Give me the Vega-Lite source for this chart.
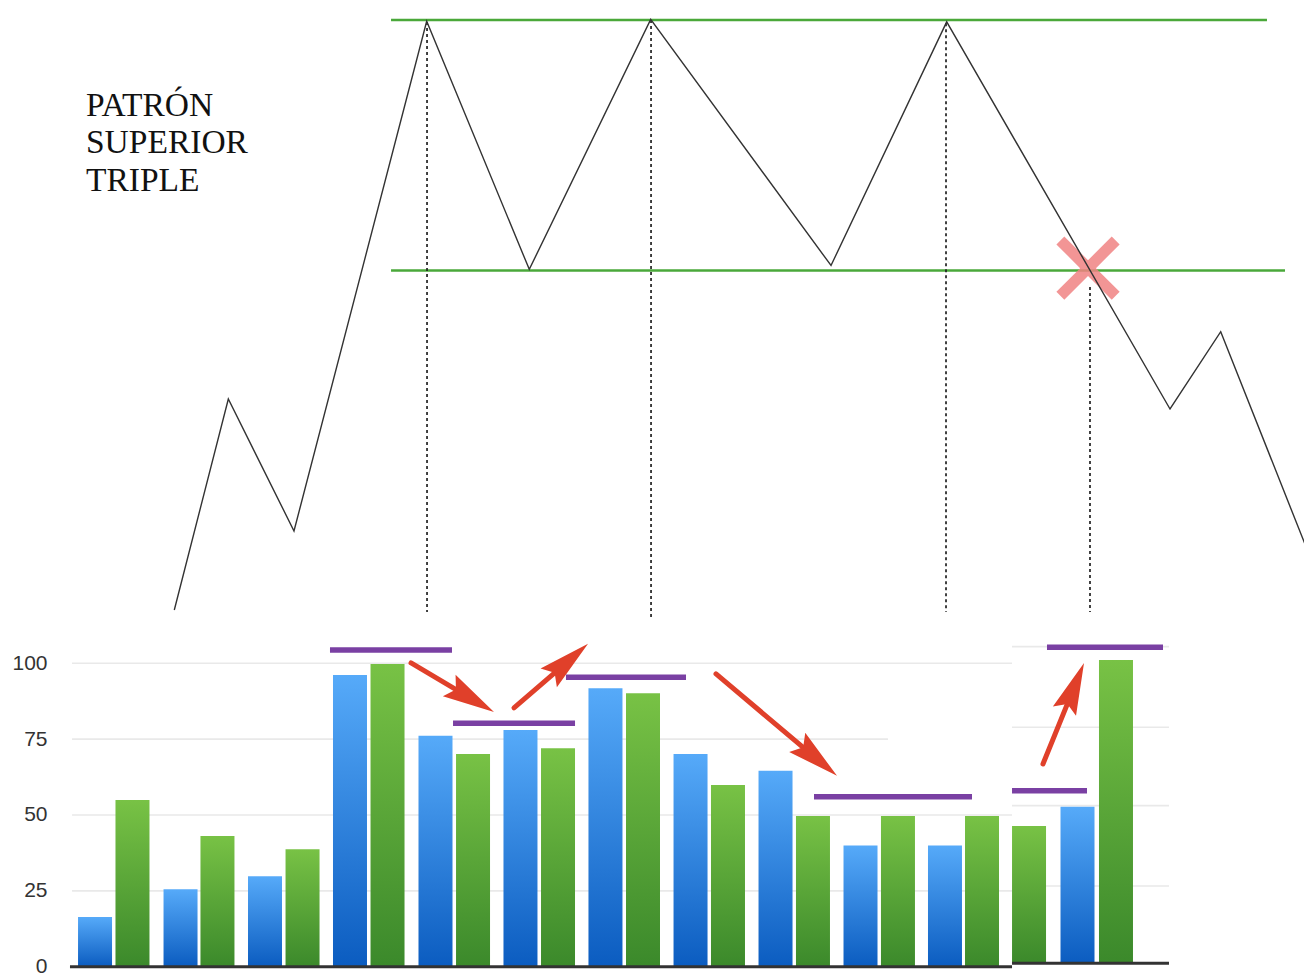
{
  "$schema": "https://vega.github.io/schema/vega-lite/v6.json",
  "width": 1304,
  "height": 974,
  "autosize": {"type": "none"},
  "padding": 0,
  "background": "white",
  "config": {"view": {"stroke": null}, "scale": {"continuousPadding": 0}},
  "datasets": {
    "linea": [
      {"g": 1.711, "p": 5.6},
      {"g": 2.343, "p": 39.36},
      {"g": 3.111, "p": 18.24},
      {"g": 4.663, "p": 99.8},
      {"g": 5.863, "p": 60.1},
      {"g": 7.283, "p": 100.1},
      {"g": 9.392, "p": 60.72},
      {"g": 10.745, "p": 99.7},
      {"g": 13.357, "p": 37.76},
      {"g": 13.95, "p": 50.13},
      {"g": 15.111, "p": 10.08}
    ],
    "niveles": [
      {"nivel": "resistencia", "g1": 4.246, "g2": 14.491, "p": 100},
      {"nivel": "soporte", "g1": 4.246, "g2": 14.702, "p": 59.92}
    ],
    "verticales": [
      {"g": 4.667, "p1": 99.7, "p2": 5.28},
      {"g": 7.287, "p1": 100, "p2": 4.0},
      {"g": 10.737, "p1": 99.5, "p2": 5.28},
      {"g": 12.421, "p1": 57.3, "p2": 5.28}
    ],
    "ruptura": [{"g": 12.398, "p": 60.3}],
    "titulo": [{"g": 0.678, "p": 84.69, "texto": "PATRÓN\nSUPERIOR\nTRIPLE"}],
    "barras": [
      {"g": 0.784, "v": 16.4, "serie": "A", "base": 0},
      {"g": 1.222, "v": 54.9, "serie": "B", "base": 0},
      {"g": 1.784, "v": 25.5, "serie": "A", "base": 0},
      {"g": 2.216, "v": 43.1, "serie": "B", "base": 0},
      {"g": 2.772, "v": 29.8, "serie": "A", "base": 0},
      {"g": 3.211, "v": 38.7, "serie": "B", "base": 0},
      {"g": 3.766, "v": 96.1, "serie": "A", "base": 0},
      {"g": 4.205, "v": 99.8, "serie": "B", "base": 0},
      {"g": 4.766, "v": 76.1, "serie": "A", "base": 0},
      {"g": 5.205, "v": 70.1, "serie": "B", "base": 0},
      {"g": 5.76, "v": 78.0, "serie": "A", "base": 0},
      {"g": 6.199, "v": 72.0, "serie": "B", "base": 0},
      {"g": 6.754, "v": 91.8, "serie": "A", "base": 0},
      {"g": 7.193, "v": 90.1, "serie": "B", "base": 0},
      {"g": 7.749, "v": 70.1, "serie": "A", "base": 0},
      {"g": 8.187, "v": 59.9, "serie": "B", "base": 0},
      {"g": 8.743, "v": 64.6, "serie": "A", "base": 0},
      {"g": 9.181, "v": 49.7, "serie": "B", "base": 0},
      {"g": 9.737, "v": 39.9, "serie": "A", "base": 0},
      {"g": 10.175, "v": 49.7, "serie": "B", "base": 0},
      {"g": 10.725, "v": 39.9, "serie": "A", "base": 0},
      {"g": 11.158, "v": 49.7, "serie": "B", "base": 0},
      {"g": 11.708, "v": 46.4, "serie": "B", "base": 1.12},
      {"g": 12.275, "v": 52.7, "serie": "A", "base": 1.12},
      {"g": 12.725, "v": 101.1, "serie": "B", "base": 1.12}
    ],
    "rejilla": [
      {"v": 25, "g1": 0.515, "g2": 11.509},
      {"v": 50, "g1": 0.515, "g2": 11.509},
      {"v": 75, "g1": 0.515, "g2": 10.058},
      {"v": 100, "g1": 0.515, "g2": 11.509},
      {"v": 26.6, "g1": 11.509, "g2": 13.345},
      {"v": 53.07, "g1": 11.509, "g2": 13.345},
      {"v": 78.9, "g1": 11.509, "g2": 13.345},
      {"v": 105.5, "g1": 11.509, "g2": 13.345}
    ],
    "bases": [
      {"v": 0, "g1": 0.491, "g2": 11.509},
      {"v": 1.12, "g1": 11.509, "g2": 13.345}
    ],
    "moradas": [
      {"g1": 3.532, "g2": 4.959, "v": 104.4},
      {"g1": 4.971, "g2": 6.398, "v": 80.2},
      {"g1": 6.292, "g2": 7.696, "v": 95.4},
      {"g1": 9.193, "g2": 11.041, "v": 56.0},
      {"g1": 11.509, "g2": 12.386, "v": 58.0},
      {"g1": 11.918, "g2": 13.275, "v": 105.3}
    ],
    "flechas": [
      {"x1": 4.48, "y1": 100.1, "xm": 5.199, "ym": 88.1, "xt": 5.45, "yt": 83.97, "rumbo": 120.6},
      {"x1": 5.684, "y1": 85.3, "xm": 6.329, "ym": 100.96, "xt": 6.55, "yt": 106.4, "rumbo": 49.1},
      {"x1": 8.047, "y1": 96.5, "xm": 9.239, "ym": 68.16, "xt": 9.462, "yt": 62.9, "rumbo": 130.1},
      {"x1": 11.871, "y1": 66.8, "xm": 12.241, "ym": 92.45, "xt": 12.351, "yt": 100.1, "rumbo": 22.1}
    ]
  },
  "resolve": {"scale": {"y": "independent"}},
  "layer": [
    {
      "layer": [
        {
          "data": {"name": "niveles"},
          "mark": {"type": "rule", "color": "#4aa83a", "strokeWidth": 2.6},
          "encoding": {
            "x": {"field": "g1", "type": "quantitative", "scale": {"domain": [-0.3275, 14.924], "nice": false, "zero": false, "padding": 0}, "axis": null},
            "x2": {"field": "g2"},
            "y": {"field": "p", "type": "quantitative", "scale": {"domain": [-52.64, 103.2], "nice": false, "zero": false, "padding": 0}, "axis": null}
          }
        },
        {
          "data": {"name": "ruptura"},
          "mark": {"type": "point", "shape": "M-1,-0.75L-0.75,-1L0,-0.25L0.75,-1L1,-0.75L0.25,0L1,0.75L0.75,1L0,0.25L-0.75,1L-1,0.75L-0.25,0Z", "filled": true, "size": 4000, "color": "#f08383", "opacity": 0.85},
          "encoding": {
            "x": {"field": "g", "type": "quantitative", "scale": {"domain": [-0.3275, 14.924], "nice": false, "zero": false, "padding": 0}, "axis": null},
            "y": {"field": "p", "type": "quantitative", "scale": {"domain": [-52.64, 103.2], "nice": false, "zero": false, "padding": 0}, "axis": null}
          }
        },
        {
          "data": {"name": "verticales"},
          "mark": {"type": "rule", "color": "#222222", "strokeWidth": 1.7, "strokeDash": [3, 3]},
          "encoding": {
            "x": {"field": "g", "type": "quantitative", "scale": {"domain": [-0.3275, 14.924], "nice": false, "zero": false, "padding": 0}, "axis": null},
            "y": {"field": "p1", "type": "quantitative", "scale": {"domain": [-52.64, 103.2], "nice": false, "zero": false, "padding": 0}, "axis": null},
            "y2": {"field": "p2"}
          }
        },
        {
          "data": {"name": "linea"},
          "mark": {"type": "line", "color": "#333333", "strokeWidth": 1.4, "clip": true},
          "encoding": {
            "x": {"field": "g", "type": "quantitative", "scale": {"domain": [-0.3275, 14.924], "nice": false, "zero": false, "padding": 0}, "axis": null},
            "y": {"field": "p", "type": "quantitative", "scale": {"domain": [-52.64, 103.2], "nice": false, "zero": false, "padding": 0}, "axis": null}
          }
        },
        {
          "data": {"name": "titulo"},
          "mark": {"type": "text", "font": "Liberation Serif", "fontSize": 33.5, "lineBreak": "\n", "lineHeight": 37.5, "align": "left", "baseline": "alphabetic", "color": "#111111"},
          "encoding": {
            "x": {"field": "g", "type": "quantitative", "scale": {"domain": [-0.3275, 14.924], "nice": false, "zero": false, "padding": 0}, "axis": null},
            "y": {"field": "p", "type": "quantitative", "scale": {"domain": [-52.64, 103.2], "nice": false, "zero": false, "padding": 0}, "axis": null},
            "text": {"field": "texto"}
          }
        }
      ]
    },
    {
      "layer": [
        {
          "data": {"name": "rejilla"},
          "mark": {"type": "rule", "color": "#e9e9e9", "strokeWidth": 1.6},
          "encoding": {
            "x": {"field": "g1", "type": "quantitative", "scale": {"domain": [-0.3275, 14.924], "nice": false, "zero": false, "padding": 0}, "axis": null},
            "x2": {"field": "g2"},
            "y": {"field": "v", "type": "quantitative", "scale": {"domain": [-2.41, 318.6], "nice": false, "zero": false, "padding": 0},
              "axis": {"values": [0, 25, 50, 75, 100], "orient": "left", "offset": -47, "domain": false, "ticks": false, "tickSize": 0, "labelPadding": 0, "grid": false, "title": null, "labelFont": "Liberation Sans", "labelFontSize": 21, "labelColor": "#333333", "labelOverlap": false}}
          }
        },
        {
          "data": {"name": "barras"},
          "transform": [{"filter": "datum.serie === 'A'"}],
          "mark": {"type": "bar", "size": 34, "color": {"gradient": "linear", "x1": 0, "y1": 0, "x2": 0, "y2": 1, "stops": [{"offset": 0, "color": "#56aaf9"}, {"offset": 1, "color": "#0b5cc0"}]}},
          "encoding": {
            "x": {"field": "g", "type": "quantitative", "scale": {"domain": [-0.3275, 14.924], "nice": false, "zero": false, "padding": 0}, "axis": null},
            "y": {"field": "v", "type": "quantitative", "scale": {"domain": [-2.41, 318.6], "nice": false, "zero": false, "padding": 0},
              "axis": {"values": [0, 25, 50, 75, 100], "orient": "left", "offset": -47, "domain": false, "ticks": false, "tickSize": 0, "labelPadding": 0, "grid": false, "title": null, "labelFont": "Liberation Sans", "labelFontSize": 21, "labelColor": "#333333", "labelOverlap": false}},
            "y2": {"field": "base"}
          }
        },
        {
          "data": {"name": "barras"},
          "transform": [{"filter": "datum.serie === 'B'"}],
          "mark": {"type": "bar", "size": 34, "color": {"gradient": "linear", "x1": 0, "y1": 0, "x2": 0, "y2": 1, "stops": [{"offset": 0, "color": "#78c245"}, {"offset": 1, "color": "#3b892b"}]}},
          "encoding": {
            "x": {"field": "g", "type": "quantitative", "scale": {"domain": [-0.3275, 14.924], "nice": false, "zero": false, "padding": 0}, "axis": null},
            "y": {"field": "v", "type": "quantitative", "scale": {"domain": [-2.41, 318.6], "nice": false, "zero": false, "padding": 0},
              "axis": {"values": [0, 25, 50, 75, 100], "orient": "left", "offset": -47, "domain": false, "ticks": false, "tickSize": 0, "labelPadding": 0, "grid": false, "title": null, "labelFont": "Liberation Sans", "labelFontSize": 21, "labelColor": "#333333", "labelOverlap": false}},
            "y2": {"field": "base"}
          }
        },
        {
          "data": {"name": "bases"},
          "mark": {"type": "rule", "color": "#333333", "strokeWidth": 3},
          "encoding": {
            "x": {"field": "g1", "type": "quantitative", "scale": {"domain": [-0.3275, 14.924], "nice": false, "zero": false, "padding": 0}, "axis": null},
            "x2": {"field": "g2"},
            "y": {"field": "v", "type": "quantitative", "scale": {"domain": [-2.41, 318.6], "nice": false, "zero": false, "padding": 0},
              "axis": {"values": [0, 25, 50, 75, 100], "orient": "left", "offset": -47, "domain": false, "ticks": false, "tickSize": 0, "labelPadding": 0, "grid": false, "title": null, "labelFont": "Liberation Sans", "labelFontSize": 21, "labelColor": "#333333", "labelOverlap": false}}
          }
        },
        {
          "data": {"name": "moradas"},
          "mark": {"type": "rule", "color": "#7a40a3", "strokeWidth": 5.5},
          "encoding": {
            "x": {"field": "g1", "type": "quantitative", "scale": {"domain": [-0.3275, 14.924], "nice": false, "zero": false, "padding": 0}, "axis": null},
            "x2": {"field": "g2"},
            "y": {"field": "v", "type": "quantitative", "scale": {"domain": [-2.41, 318.6], "nice": false, "zero": false, "padding": 0},
              "axis": {"values": [0, 25, 50, 75, 100], "orient": "left", "offset": -47, "domain": false, "ticks": false, "tickSize": 0, "labelPadding": 0, "grid": false, "title": null, "labelFont": "Liberation Sans", "labelFontSize": 21, "labelColor": "#333333", "labelOverlap": false}}
          }
        },
        {
          "data": {"name": "flechas"},
          "mark": {"type": "rule", "color": "#e0402a", "strokeWidth": 5, "strokeCap": "round"},
          "encoding": {
            "x": {"field": "x1", "type": "quantitative", "scale": {"domain": [-0.3275, 14.924], "nice": false, "zero": false, "padding": 0}, "axis": null},
            "x2": {"field": "xm"},
            "y": {"field": "y1", "type": "quantitative", "scale": {"domain": [-2.41, 318.6], "nice": false, "zero": false, "padding": 0},
              "axis": {"values": [0, 25, 50, 75, 100], "orient": "left", "offset": -47, "domain": false, "ticks": false, "tickSize": 0, "labelPadding": 0, "grid": false, "title": null, "labelFont": "Liberation Sans", "labelFontSize": 21, "labelColor": "#333333", "labelOverlap": false}},
            "y2": {"field": "ym"}
          }
        },
        {
          "data": {"name": "flechas"},
          "mark": {"type": "point", "shape": "M0,0L0.48,2L0,1.7L-0.48,2Z", "filled": true, "size": 2704, "color": "#e0402a", "opacity": 1},
          "encoding": {
            "x": {"field": "xt", "type": "quantitative", "scale": {"domain": [-0.3275, 14.924], "nice": false, "zero": false, "padding": 0}, "axis": null},
            "y": {"field": "yt", "type": "quantitative", "scale": {"domain": [-2.41, 318.6], "nice": false, "zero": false, "padding": 0},
              "axis": {"values": [0, 25, 50, 75, 100], "orient": "left", "offset": -47, "domain": false, "ticks": false, "tickSize": 0, "labelPadding": 0, "grid": false, "title": null, "labelFont": "Liberation Sans", "labelFontSize": 21, "labelColor": "#333333", "labelOverlap": false}},
            "angle": {"field": "rumbo", "type": "quantitative", "scale": null}
          }
        }
      ]
    }
  ]
}
